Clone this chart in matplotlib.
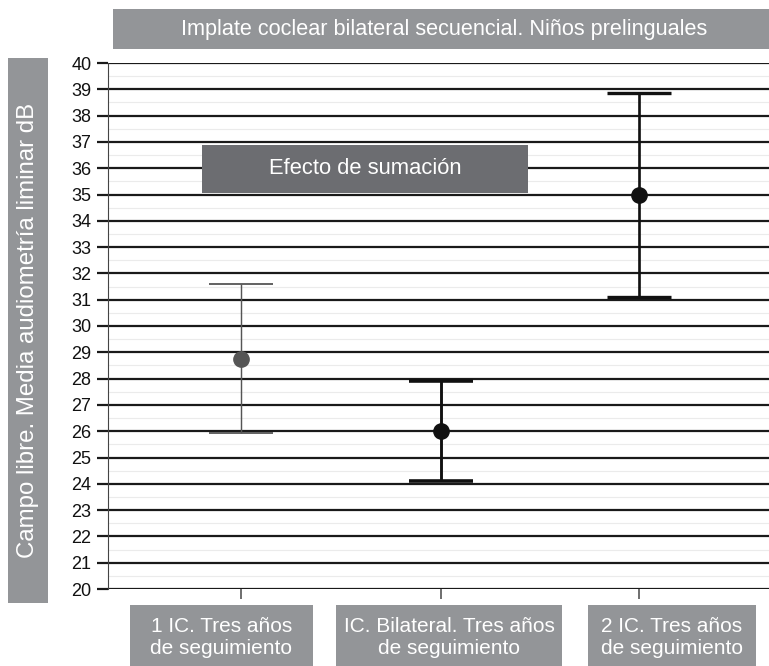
import numpy as np
import matplotlib.pyplot as plt
from matplotlib.patches import Rectangle

# data
categories = ['1 IC. Tres años\nde seguimiento',
              'IC. Bilateral. Tres años\nde seguimiento',
              '2 IC. Tres años\nde seguimiento']
x_pos = [1.0, 2.0, 2.99]
means = [28.75, 26.0, 35.0]
upper = [31.6, 27.9, 38.85]
lower = [25.95, 24.1, 31.1]
bar_colors = ['#555555', '#111111', '#111111']
bar_widths = [1.3, 2.6, 2.4]

title = 'Implate coclear bilateral secuencial. Niños prelinguales'
ylabel = 'Campo libre. Media audiometría liminar dB'
note = 'Efecto de sumación'

W, H = 769, 666
box_grey = '#939598'
dark_grey = '#6c6d71'
font = ['Liberation Sans', 'DejaVu Sans']

fig = plt.figure(figsize=(W / 100, H / 100), dpi=100)
plt.rcParams['font.family'] = font

ax = fig.add_axes([108 / W, 1 - 589 / H, 1 - 108 / W, (589 - 63) / H])
ax.set_ylim(20, 40)
ax.set_xlim(0.335, 3.64)
ax.set_yticks(range(20, 41))
ax.set_yticks(np.arange(20.5, 40, 1), minor=True)
ax.grid(axis='y', which='major', color='#1a1a1a', lw=1.6)
ax.grid(axis='y', which='minor', color='#ebebeb', lw=0.8)
ax.set_axisbelow(True)
for s in ['top', 'right', 'bottom']:
    ax.spines[s].set_visible(False)
ax.spines['left'].set_color('#444444')
ax.spines['left'].set_linewidth(0.8)
ax.tick_params(axis='y', which='major', length=8, width=1.6, color='#1a1a1a',
               labelsize=13, pad=4, labelcolor='#111111')
ax.tick_params(axis='y', which='minor', length=0)
ax.set_xticks(x_pos)
ax.set_xticklabels([])
ax.tick_params(axis='x', length=7, width=1.2, color='#555555', direction='out')

for i in range(3):
    err = [[means[i] - lower[i]], [upper[i] - means[i]]]
    ax.errorbar([x_pos[i]], [means[i]], yerr=err, fmt='o', color=bar_colors[i],
                ecolor=bar_colors[i], elinewidth=bar_widths[i] * 0.8,
                capsize=23, capthick=bar_widths[i], markersize=11, zorder=3)

# boxes drawn in pixel coordinates of the figure
def box(x0, y0, x1, y1, color):
    fig.patches.append(Rectangle((x0 / W, 1 - y1 / H), (x1 - x0) / W, (y1 - y0) / H,
                                 transform=fig.transFigure, facecolor=color,
                                 edgecolor='none', zorder=5))

box(113, 9, 769, 49, box_grey)
fig.text((113 + 769) / 2 / W + 0.004, 1 - 29 / H, title, ha='center', va='center',
         color='white', fontsize=15.6, zorder=6)

box(8, 58, 48, 603, box_grey)
fig.text(28 / W, 1 - 330 / H, ylabel, ha='center', va='center', rotation=90,
         color='white', fontsize=17.3, zorder=6)

box(202, 145, 528, 193, dark_grey)
fig.text(365 / W, 1 - 169 / H, note, ha='center', va='center',
         color='white', fontsize=15.8, zorder=6)

cat_boxes = [(130, 313), (336, 562), (588, 756)]
for (x0, x1), lab in zip(cat_boxes, categories):
    box(x0, 605, x1, 666, box_grey)
    fig.text((x0 + x1) / 2 / W, 1 - 637 / H, lab, ha='center', va='center',
             color='white', fontsize=15.0, linespacing=1.2, zorder=6)

fig.savefig('out.png', dpi=100)
